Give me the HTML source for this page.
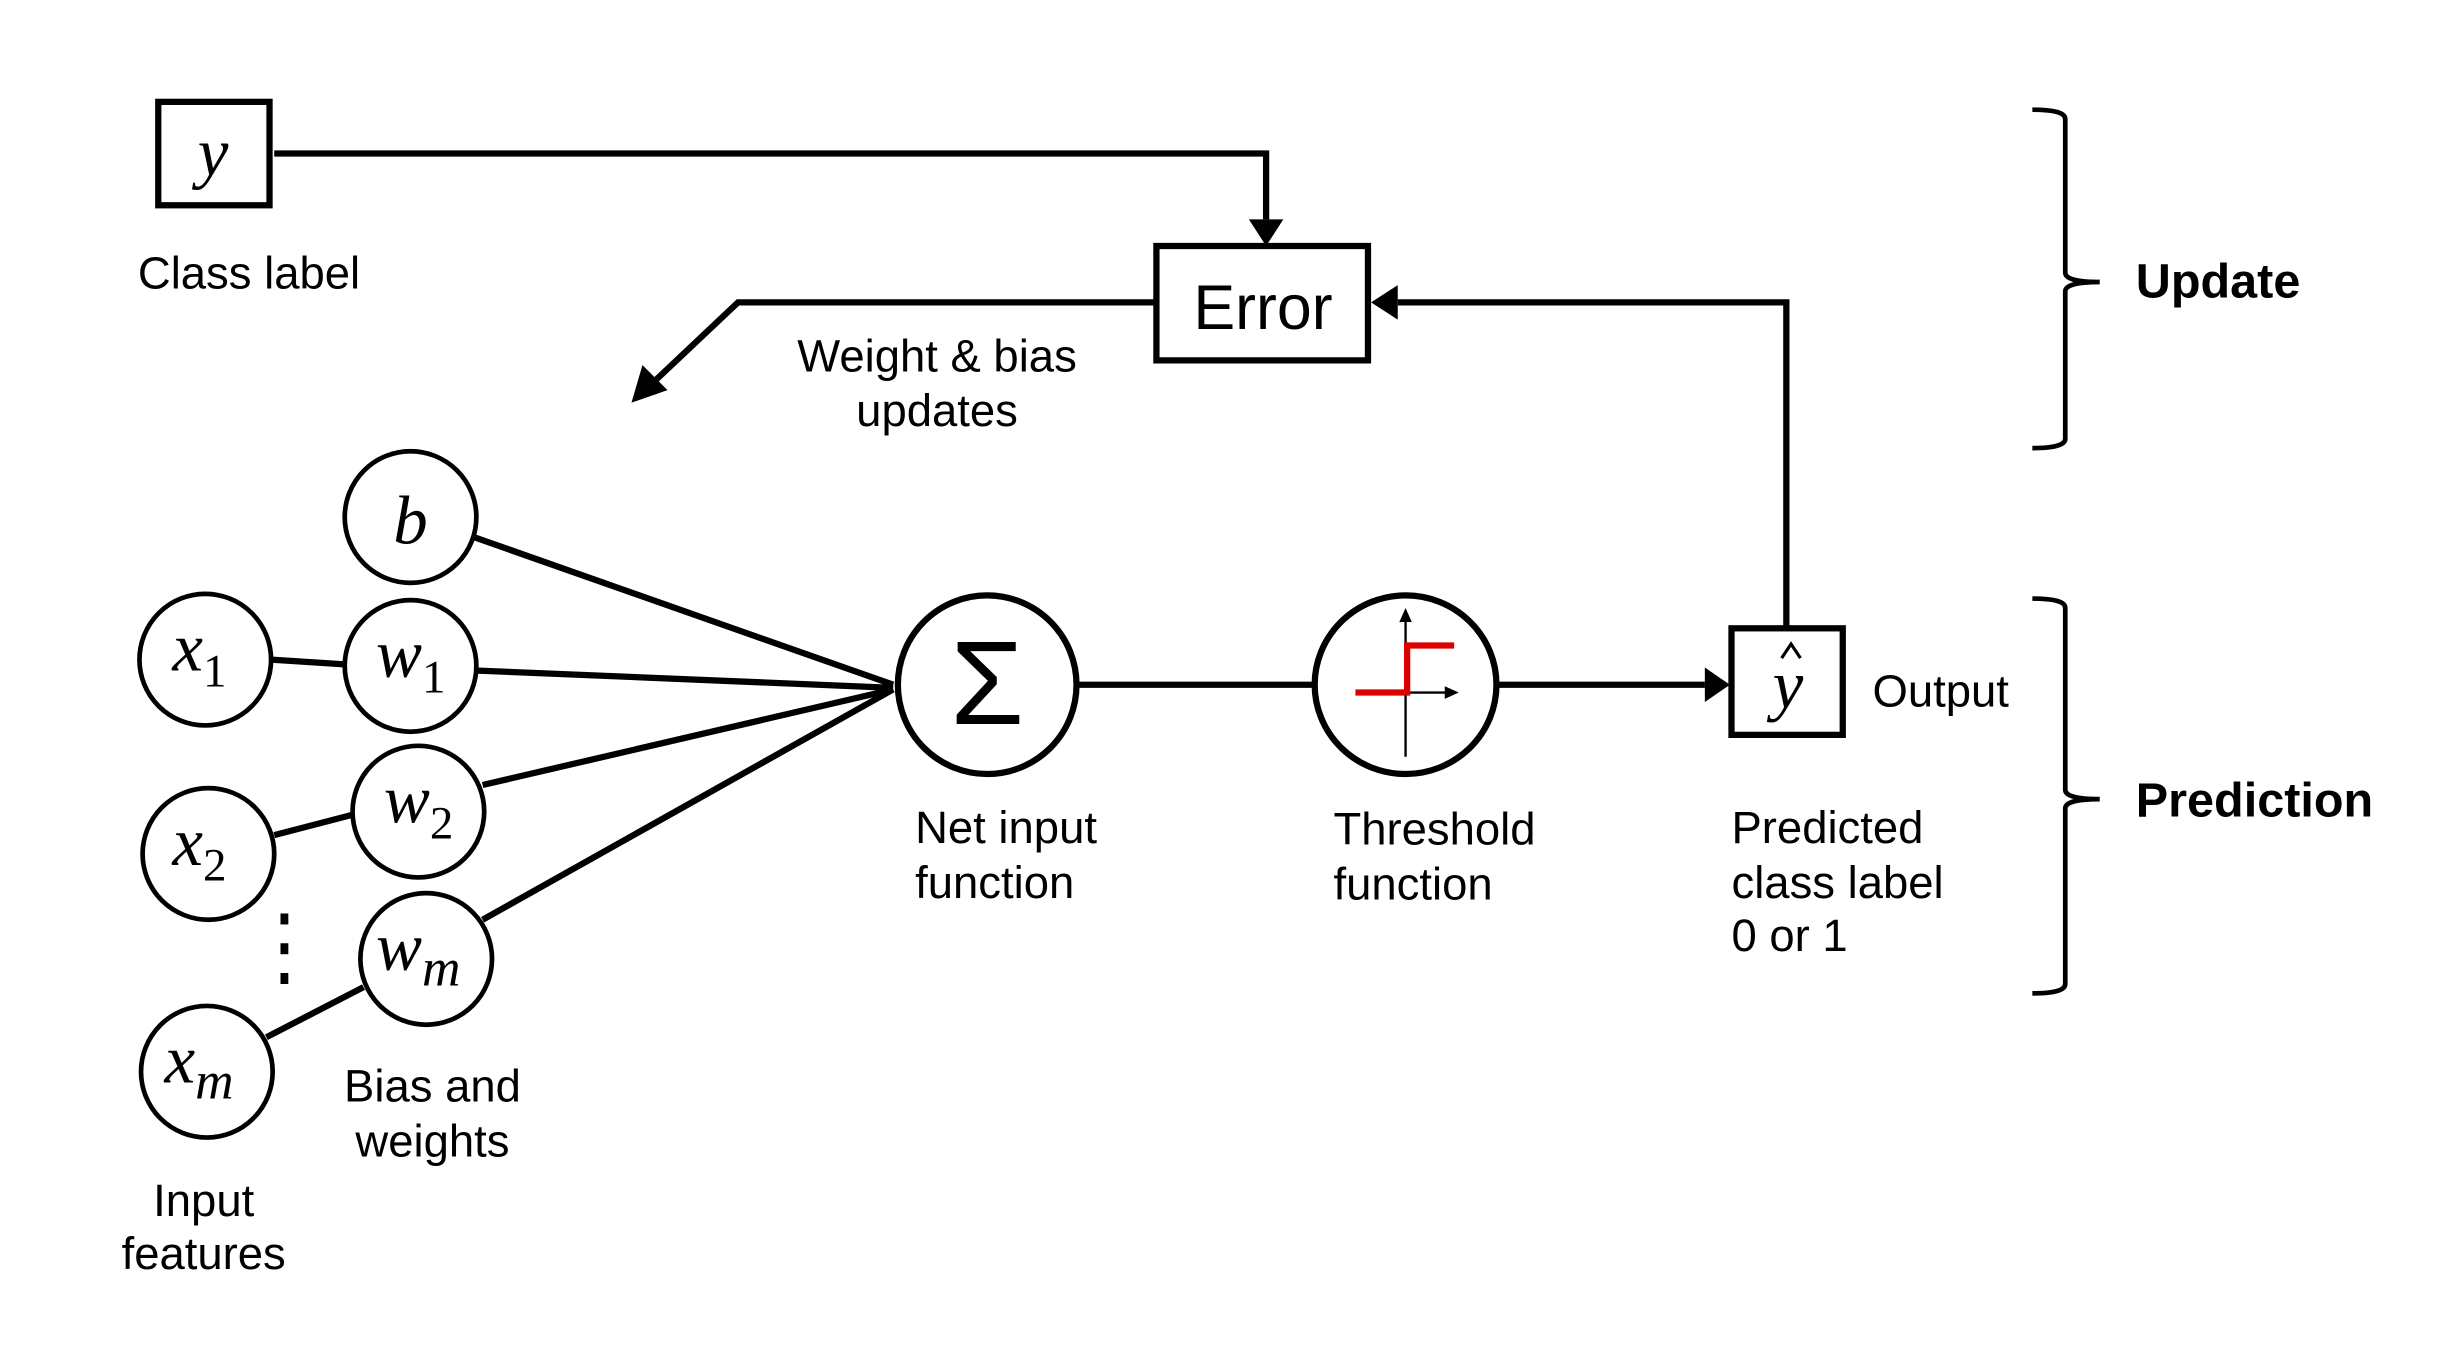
<!DOCTYPE html>
<html><head><meta charset="utf-8"><style>
html,body{margin:0;padding:0;background:#fff;}
svg{display:block}
.l{font-family:"Liberation Sans",sans-serif;font-size:29px;fill:#000}
.b{font-family:"Liberation Sans",sans-serif;font-size:31px;font-weight:bold;fill:#000}
.m{font-family:"Liberation Serif",serif;font-style:italic;font-size:44px;fill:#000}
.s{font-family:"Liberation Serif",serif;font-style:normal;font-size:30px;fill:#000}
</style></head><body>
<svg width="2457" height="1371" viewBox="0 0 1568 875" preserveAspectRatio="none" xmlns="http://www.w3.org/2000/svg">
<g stroke="#000" stroke-width="4" fill="none">
<rect x="101" y="65" width="71" height="66"/>
<polyline points="175,98 808,98 808,140"/>
<rect x="738" y="157" width="135" height="73"/>
<polyline points="738,193 471,193 418,243"/>
<polyline points="1140,400 1140,193 892,193"/>
<rect x="1105" y="401" width="71" height="68"/>
<line x1="303" y1="343" x2="570" y2="437"/>
<line x1="305" y1="428" x2="570" y2="439"/>
<line x1="308" y1="501" x2="570" y2="440"/>
<line x1="308" y1="587" x2="570" y2="440"/>
<line x1="173" y1="421" x2="220" y2="424"/>
<line x1="175" y1="533" x2="225" y2="520"/>
<line x1="170" y1="662" x2="232" y2="630"/>
<line x1="688" y1="437" x2="838" y2="437"/>
<line x1="955" y1="437" x2="1088" y2="437"/>
<g stroke-width="3" fill="#fff">
<circle cx="262" cy="330" r="42"/>
<circle cx="131" cy="421" r="42"/>
<circle cx="262" cy="425" r="42"/>
<circle cx="133" cy="545" r="42"/>
<circle cx="267" cy="518" r="42"/>
<circle cx="272" cy="612" r="42"/>
<circle cx="132" cy="684" r="42"/>
</g>
<circle cx="630" cy="437" r="57" fill="#fff"/>
<ellipse cx="897" cy="437" rx="58" ry="57" fill="#fff"/>
</g>
<path d="M797,140 L819,140 L808,157 z" fill="#000"/>
<path d="M892,182 L892,204 L875,193 z" fill="#000"/>
<path d="M1088,426 L1088,448 L1104,437 z" fill="#000"/>
<path d="M403,257 L410,233 L426,249 z" fill="#000"/>
<rect x="179" y="583" width="5" height="7" fill="#000"/>
<rect x="179" y="602" width="5" height="7" fill="#000"/>
<rect x="179" y="621" width="5" height="7" fill="#000"/>
<g stroke="#000" stroke-width="1.5" fill="none">
<line x1="897" y1="483" x2="897" y2="395"/>
<line x1="867" y1="442" x2="925" y2="442"/>
</g>
<path d="M893,397 L897,388 L901,397 z" fill="#000"/>
<path d="M922,438 L931,442 L922,446 z" fill="#000"/>
<polyline points="865,442 898,442 898,412 928,412" stroke="#d00" stroke-width="4" fill="none"/>
<text x="630" y="462" text-anchor="middle" style="font-family:'Liberation Sans',sans-serif;font-size:76px;fill:#000">Σ</text>
<text class="m" x="136" y="112" text-anchor="middle">y</text>
<text class="m" x="262" y="347" text-anchor="middle">b</text>
<text class="m" x="110" y="428">x<tspan class="s" dy="10">1</tspan></text>
<text class="m" x="240" y="432">w<tspan class="s" dy="10">1</tspan></text>
<text class="m" x="110" y="552">x<tspan class="s" dy="10">2</tspan></text>
<text class="m" x="245" y="525">w<tspan class="s" dy="10">2</tspan></text>
<text class="m" x="240" y="619">w<tspan class="m" style="font-size:34px" dy="10">m</tspan></text>
<text class="m" x="105" y="691">x<tspan class="m" style="font-size:34px" dy="10">m</tspan></text>
<text class="m" x="1141" y="452" text-anchor="middle">y</text>
<path d="M1137,420 L1143,411 L1149,420" stroke="#000" stroke-width="2" fill="none"/>
<text x="806" y="210" text-anchor="middle" style="font-family:'Liberation Sans',sans-serif;font-size:40px">Error</text>
<text class="l" x="88" y="184">Class label</text>
<text class="l" x="598" y="237" text-anchor="middle">Weight &amp; bias</text>
<text class="l" x="598" y="272" text-anchor="middle">updates</text>
<text class="l" x="584" y="538">Net input</text>
<text class="l" x="584" y="573">function</text>
<text class="l" x="851" y="539">Threshold</text>
<text class="l" x="851" y="574">function</text>
<text class="l" x="1105" y="538">Predicted</text>
<text class="l" x="1105" y="573">class label</text>
<text class="l" x="1105" y="607">0 or 1</text>
<text class="l" x="1195" y="451">Output</text>
<text class="l" x="276" y="703" text-anchor="middle">Bias and</text>
<text class="l" x="276" y="738" text-anchor="middle">weights</text>
<text class="l" x="130" y="776" text-anchor="middle">Input</text>
<text class="l" x="130" y="810" text-anchor="middle">features</text>
<g stroke="#000" stroke-width="3" fill="none">
<path d="M1297,70 Q1318,70 1318,76 L1318,174 Q1318,180 1340,180 Q1318,180 1318,186 L1318,280 Q1318,286 1297,286"/>
<path d="M1297,382 Q1318,382 1318,388 L1318,504 Q1318,510 1340,510 Q1318,510 1318,516 L1318,628 Q1318,634 1297,634"/>
</g>
<text class="b" x="1363" y="190">Update</text>
<text class="b" x="1363" y="521">Prediction</text>
</svg>
</body></html>
